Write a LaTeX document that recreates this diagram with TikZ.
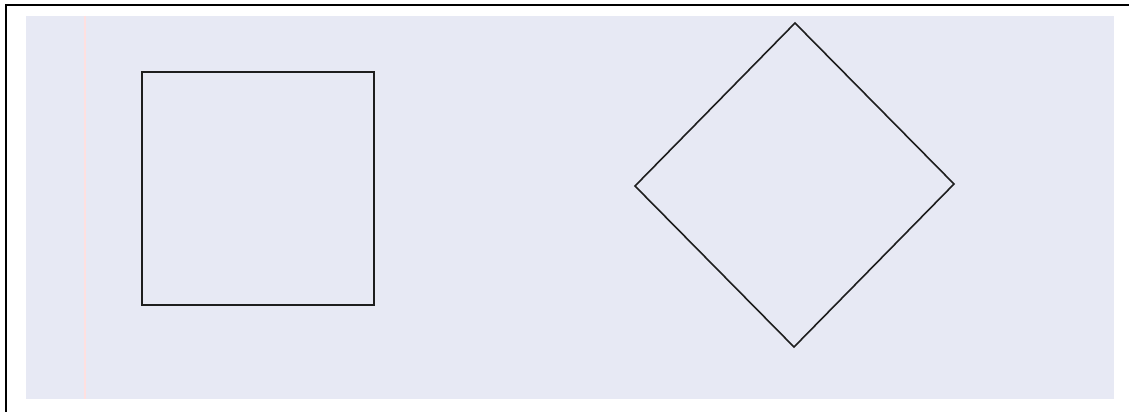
\documentclass[tikz,border=0pt]{standalone}
\usetikzlibrary{shapes.geometric}
\definecolor{paper}{RGB}{231,233,244}
\definecolor{ink}{RGB}{30,30,30}
\begin{document}
\begin{tikzpicture}[x=1pt,y=-1pt,
  shapeline/.style={draw=ink,line width=1.6pt,line join=miter},
  frameline/.style={draw=black,line width=2pt}]
\useasboundingbox (0,0) rectangle (1129,412);
\fill[white] (0,0) rectangle (1129,412);
\fill[paper] (26,16) rectangle (1114,399);
\draw[red!12,line width=1.5pt] (85,16) -- (85,399);
\draw[frameline] (6,412) -- (6,5) -- (1129,5);
\node[shapeline,minimum width=232pt,minimum height=233pt,inner sep=0pt] (sq) at (258,188.5) {};
\coordinate (dt) at (795,23);
\coordinate (dr) at (954,184);
\coordinate (db) at (794,347);
\coordinate (dl) at (635,186);
\draw[shapeline] (dt) -- (dr) -- (db) -- (dl) -- cycle;
\end{tikzpicture}
\end{document}
